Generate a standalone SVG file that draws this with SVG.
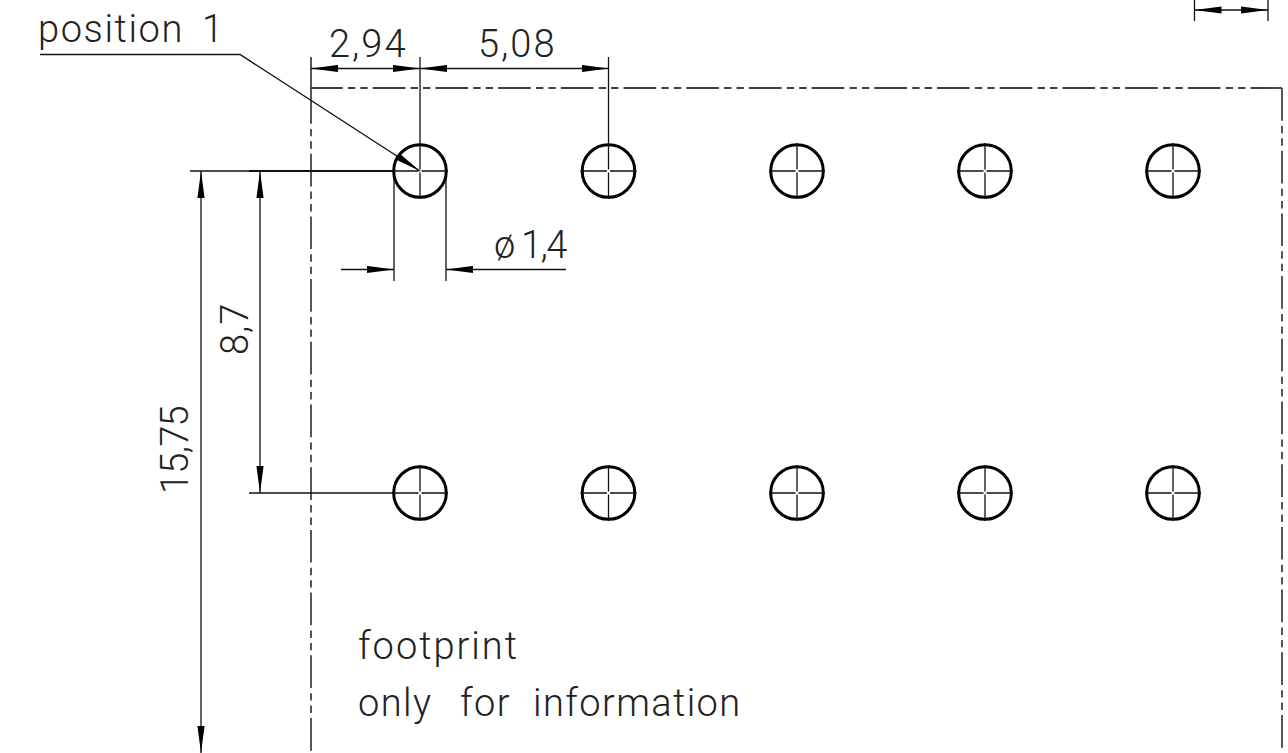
<svg xmlns="http://www.w3.org/2000/svg" width="1288" height="753" viewBox="0 0 1288 753">
<style>
.l{fill:none;stroke:#111;stroke-width:1.3}
.b{fill:none;stroke:#111;stroke-width:1.9}
.h{fill:none;stroke:#000;stroke-width:1.4;stroke-dasharray:32.7 5.2 7.4 5 7.4 5}
.c{fill:none;stroke:#444;stroke-width:1.8;stroke-dasharray:32.7 5.2 7.4 5 7.4 5}
.a{marker-end:url(#tip)}
.aa{marker-start:url(#tipS);marker-end:url(#tip)}
text{font-family:"Roboto","Liberation Sans",sans-serif;font-weight:300;font-size:38px;fill:#222;letter-spacing:2px}
</style>
<defs>
<marker id="tip" markerUnits="userSpaceOnUse" markerWidth="28" markerHeight="8" refX="27" refY="4" orient="auto"><path d="M27 4L0 .4V7.600z" fill="#000"/></marker>
<marker id="tipS" markerUnits="userSpaceOnUse" markerWidth="28" markerHeight="8" refX="27" refY="4" orient="auto-start-reverse"><path d="M27 4L0 .4V7.600z" fill="#000"/></marker>
<g id="hole">
<circle r="26.300" fill="none" stroke="#000" stroke-width="3"/>
<path class="l" d="M-28 0H-1.500M1.500 0H28M0-28V-1.500M0 1.500V28"/>
</g>
</defs>
<g id="connectors">
<path class="h" d="M310 88H1282"/>
<path class="c" d="M1282 88V753"/>
<path class="c" d="M311 91V753"/>
<path class="c" style="stroke-dasharray:none" d="M311 57V91"/>
<path class="l" d="M420 57V143"/>
<path class="l" d="M608.500 57V143"/>
<path class="l aa" d="M311 68.500H420"/>
<path class="l aa" d="M420 68.500H608.500"/>
<path class="l" d="M1194.500 0V21M1268 0V21"/>
<path class="l aa" d="M1194.500 10H1268"/>
<path class="l a" d="M40 54.500H240L420 171"/>
<path class="l" d="M190 171H249"/>
<path class="b" d="M249 171H394"/>
<path class="l" d="M249 493H394"/>
<path class="l a" d="M260 493V171" style="marker-start:url(#tipS)"/>
<path class="l a" d="M201 171V753" style="marker-start:url(#tipS)"/>
<path class="l" d="M394 171V281M446 171V281"/>
<path class="l a" d="M341 269.500H394"/>
<path class="l a" d="M566 269.500H446"/>
</g>
<use id="hole-1-1" href="#hole" x="420" y="171"/>
<use id="hole-1-2" href="#hole" x="608.500" y="171"/>
<use id="hole-1-3" href="#hole" x="797" y="171"/>
<use id="hole-1-4" href="#hole" x="985" y="171"/>
<use id="hole-1-5" href="#hole" x="1173" y="171"/>
<use id="hole-2-1" href="#hole" x="420" y="493"/>
<use id="hole-2-2" href="#hole" x="608.500" y="493"/>
<use id="hole-2-3" href="#hole" x="797" y="493"/>
<use id="hole-2-4" href="#hole" x="985" y="493"/>
<use id="hole-2-5" href="#hole" x="1173" y="493"/>
<g id="labels">
<text y="41.500" style="letter-spacing:1.600px"><tspan x="38">position </tspan><tspan x="202">1</tspan></text>
<text x="329" y="56.500">2,94</text>
<text x="478" y="56.500">5,08</text>
<text y="258"><tspan x="494">ø</tspan><tspan x="521" style="letter-spacing:-1.500px">1,4</tspan></text>
<text transform="translate(248 355) rotate(-90)" style="letter-spacing:1px">8,7</text>
<text transform="translate(188 494) rotate(-90)" style="letter-spacing:-.75px">15,75</text>
<text x="358" y="659">footprint</text>
<text y="715.500" style="letter-spacing:1.400px"><tspan x="358">only </tspan><tspan x="460">for </tspan><tspan x="533">information</tspan></text>
</g>
</svg>
